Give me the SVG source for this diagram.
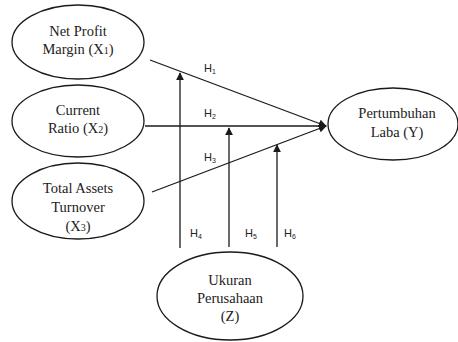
<svg xmlns="http://www.w3.org/2000/svg" width="458" height="342" viewBox="0 0 458 342">
<style>
.node ellipse{fill:#fff;stroke:#1a1a1a;stroke-width:1.3}
.lbl{font-family:"Liberation Serif","DejaVu Serif","Times New Roman",serif;font-size:14.5px;fill:#222;text-anchor:middle}
.h{font-family:"Liberation Sans",Arial,sans-serif;font-size:11px;fill:#222}
.sub{font-size:7px}
#connectors line{stroke:#1a1a1a;stroke-width:1.3;fill:none}
</style>
<defs>
<marker id="ah" viewBox="0 0 10 10" refX="9" refY="5" markerWidth="8" markerHeight="8" markerUnits="userSpaceOnUse" orient="auto">
<path d="M0,0 L10,5 L0,10 z" fill="#1a1a1a"/>
</marker>
</defs>
<rect width="458" height="342" fill="#fff"/>
<g id="connectors">
<line x1="150" y1="60" x2="326" y2="126" marker-end="url(#ah)"/>
<line x1="145" y1="126" x2="326" y2="126" marker-end="url(#ah)"/>
<line x1="152" y1="192" x2="326" y2="126" marker-end="url(#ah)"/>
<line x1="180" y1="248" x2="180" y2="73" marker-end="url(#ah)"/>
<line x1="229" y1="247" x2="229" y2="128" marker-end="url(#ah)"/>
<line x1="277" y1="247" x2="277" y2="145" marker-end="url(#ah)"/>
<text class="h" x="204" y="72">H<tspan class="sub" dy="2">1</tspan></text>
<text class="h" x="204" y="117">H<tspan class="sub" dy="2">2</tspan></text>
<text class="h" x="204" y="161">H<tspan class="sub" dy="2">3</tspan></text>
<text class="h" x="190" y="237">H<tspan class="sub" dy="2">4</tspan></text>
<text class="h" x="245" y="237">H<tspan class="sub" dy="2">5</tspan></text>
<text class="h" x="284" y="237">H<tspan class="sub" dy="2">6</tspan></text>
</g>
<g id="npm" class="node">
<ellipse cx="78" cy="42" rx="66" ry="37"/>
<text class="lbl" x="78" y="36" font-family="Liberation Serif, serif">Net Profit</text>
<text class="lbl" x="78" y="54" font-family="Liberation Serif, serif">Margin (X<tspan font-size="10">1</tspan>)</text>
</g>
<g id="cr" class="node">
<ellipse cx="78" cy="121" rx="66" ry="36"/>
<text class="lbl" x="78" y="115" font-family="Liberation Serif, serif">Current</text>
<text class="lbl" x="78" y="133" font-family="Liberation Serif, serif">Ratio (X<tspan font-size="10">2</tspan>)</text>
</g>
<g id="tato" class="node">
<ellipse cx="78" cy="201" rx="66" ry="38"/>
<text class="lbl" x="78" y="193" font-family="Liberation Serif, serif">Total Assets</text>
<text class="lbl" x="78" y="212" font-family="Liberation Serif, serif">Turnover</text>
<text class="lbl" x="78" y="231" font-family="Liberation Serif, serif">(X<tspan font-size="10">3</tspan>)</text>
</g>
<g id="y" class="node">
<ellipse cx="393" cy="124" rx="65" ry="36"/>
<text class="lbl" x="397" y="118" font-family="Liberation Serif, serif">Pertumbuhan</text>
<text class="lbl" x="397" y="137" font-family="Liberation Serif, serif">Laba (Y)</text>
</g>
<g id="z" class="node">
<ellipse cx="230" cy="296" rx="73" ry="44"/>
<text class="lbl" x="230" y="285" font-family="Liberation Serif, serif">Ukuran</text>
<text class="lbl" x="230" y="303" font-family="Liberation Serif, serif">Perusahaan</text>
<text class="lbl" x="230" y="321" font-family="Liberation Serif, serif">(Z)</text>
</g>
</svg>
